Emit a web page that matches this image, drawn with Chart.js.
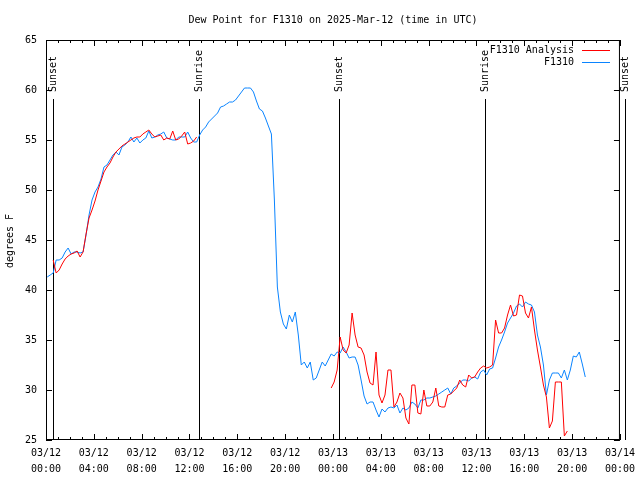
<!DOCTYPE html>
<html>
<head>
<meta charset="utf-8">
<script src="https://cdn.jsdelivr.net/npm/chart.js@4.4.1/dist/chart.umd.min.js"></script>
<style>
  html, body { margin: 0; padding: 0; background: #fff; }
  canvas { display: block; }
</style>
</head>
<body>
<canvas id="dewChart" width="640" height="480"></canvas>
<script>
// hours after 03/12 00:00 UTC, one sample every 15 minutes
const sampleStart = 0.1;
const sampleStep = 0.25;

const stationValues = [
    41.3, 41.5, 41.7, 43.0, 43.0, 43.2, 43.8, 44.2, 43.6, 43.8, 43.8, 43.7, 43.8, 45.5, 47.5, 49.0,
    49.8, 50.3, 51.1, 52.3, 52.5, 53.0, 53.5, 53.8, 53.5, 54.3, 54.5, 54.8, 55.3, 54.8, 55.2, 54.7,
    55.0, 55.2, 55.9, 55.2, 55.3, 55.5, 55.6, 55.8, 55.2, 55.1, 55.0, 55.0, 55.3, 55.3, 55.3, 55.8,
    55.2, 54.8, 54.8, 55.5, 56.0, 56.3, 56.8, 57.1, 57.4, 57.7, 58.3, 58.4, 58.6, 58.8, 58.8, 59.0,
    59.4, 59.8, 60.2, 60.2, 60.2, 59.8, 58.9, 58.1, 57.9, 57.2, 56.4, 55.6, 49.0, 40.3, 37.8, 36.6,
    36.1, 37.5, 36.8, 37.8, 35.5, 32.5, 32.8, 32.2, 32.8, 31.0, 31.2, 32.0, 32.8, 32.4, 33.0, 33.6,
    33.4, 33.8, 33.7, 34.3, 33.8, 33.2, 33.3, 33.3, 32.5, 31.0, 29.4, 28.6, 28.8, 28.8, 28.0, 27.3,
    28.1, 27.8, 28.2, 28.3, 28.2, 28.5, 27.7, 28.2, 28.0, 28.2, 28.8, 28.6, 28.2, 29.0, 29.0, 29.2,
    29.2, 29.3, 29.4, 29.6, 29.8, 30.0, 30.2, 29.6, 30.2, 30.4, 30.7, 31.0, 31.0, 30.9, 31.2, 31.3,
    31.1, 31.8, 32.0, 31.5, 32.1, 32.2, 33.2, 34.3, 35.0, 35.8, 36.7, 37.2, 37.7, 38.4, 38.6, 38.3,
    38.8, 38.6, 38.5, 37.8, 35.5, 34.3, 32.5, 29.5, 31.0, 31.7, 31.7, 31.7, 31.2, 32.0, 31.0, 32.0,
    33.4, 33.3, 33.8, 32.6, 31.3
];

const analysisValues = [
    null, null, 43.0, 41.7, 42.0, 42.6, 43.1, 43.4, 43.6, 43.7, 43.9, 43.3, 43.8, 45.6, 47.2, 48.0,
    48.9, 50.0, 50.9, 51.8, 52.3, 52.7, 53.3, 53.8, 54.1, 54.4, 54.6, 54.8, 55.0, 55.2, 55.3, 55.3,
    55.6, 55.8, 56.0, 55.6, 55.3, 55.4, 55.5, 55.0, 55.2, 55.1, 55.9, 55.0, 55.1, 55.4, 55.8, 54.6,
    54.7, 54.9, 55.3,
    null, null, null, null, null, null, null, null, null, null, null, null, null, null, null, null,
    null, null, null, null, null, null, null, null, null, null, null, null, null, null, null, null,
    null, null, null, null, null, null, null, null, null, null, null, null,
    30.2, 30.8, 32.0, 35.3, 34.0, 33.7, 34.5, 37.7, 35.5, 34.3, 34.2, 33.5, 31.8, 30.7, 30.5, 33.8,
    29.5, 28.7, 29.5, 32.0, 32.0, 28.3, 28.8, 29.7, 29.2, 27.2, 26.6, 30.5, 30.5, 27.7, 27.6, 30.0,
    28.4, 28.4, 28.8, 30.2, 28.4, 28.3, 28.3, 29.5, 29.6, 29.9, 30.2, 31.0, 30.5, 30.3, 31.5, 31.2,
    31.3, 31.8, 32.2, 32.4, 32.2, 32.3, 32.5, 37.0, 35.7, 35.7, 36.2, 37.5, 38.5, 37.4, 37.5, 39.5,
    39.4, 37.7, 37.2, 38.3, 36.0, 34.0, 32.3, 30.5, 29.3, 26.2, 26.9, 30.8, 30.8, 30.8, 25.4, 25.9
];

const xTickDays = ['03/12', '03/12', '03/12', '03/12', '03/12', '03/12', '03/13', '03/13', '03/13', '03/13', '03/13', '03/13', '03/14'];
const xTickTimes = ['00:00', '04:00', '08:00', '12:00', '16:00', '20:00', '00:00', '04:00', '08:00', '12:00', '16:00', '20:00', '00:00'];

const sunHours = [0.6, 12.78, 24.52, 36.73, 48.43];
const sunLabels = ['Sunset', 'Sunrise', 'Sunset', 'Sunrise', 'Sunset'];

const seriesNames = ['F1310 Analysis', 'F1310'];
const seriesColors = ['#ff0000', '#0a84ff'];

const monoFont = "'DejaVu Sans Mono', 'Liberation Mono', monospace";

const toPoints = (values) => values.map((v, i) => ({ x: sampleStart + i * sampleStep, y: v }));

const gnuplotFrame = {
    id: 'gnuplotFrame',
    beforeDatasetsDraw(chart) {
        const { ctx, chartArea, scales } = chart;
        ctx.save();
        ctx.strokeStyle = '#000';
        ctx.lineWidth = 1;
        ctx.fillStyle = '#000';
        ctx.font = '10px ' + monoFont;
        sunHours.forEach((h, i) => {
            const x = Math.round(scales.x.getPixelForValue(h)) + 0.5;
            ctx.beginPath();
            ctx.moveTo(x, 99);
            ctx.lineTo(x, chartArea.bottom);
            ctx.stroke();

            ctx.save();
            ctx.translate(x, 92);
            ctx.rotate(-Math.PI / 2);
            ctx.textAlign = 'left';
            ctx.textBaseline = 'middle';
            ctx.fillText(sunLabels[i], 0, 0);
            ctx.restore();
        });
        ctx.restore();
    },
    afterDraw(chart) {
        const { ctx, chartArea, scales } = chart;
        const { left, right, top, bottom } = chartArea;
        ctx.save();
        ctx.strokeStyle = '#000';
        ctx.lineWidth = 1;

        ctx.strokeRect(left + 0.5, top + 0.5, right - left - 1, bottom - top - 1);

        ctx.beginPath();
        for (let h = 0; h <= 48; h++) {
            const x = Math.round(scales.x.getPixelForValue(h)) + 0.5;
            const len = h % 4 === 0 ? 6 : 3;
            ctx.moveTo(x, bottom);
            ctx.lineTo(x, bottom - len);
            ctx.moveTo(x, top);
            ctx.lineTo(x, top + len);
        }
        for (let v = 25; v <= 65; v += 5) {
            const y = Math.round(scales.y.getPixelForValue(v)) + 0.5;
            ctx.moveTo(left, y);
            ctx.lineTo(left + 6, y);
            ctx.moveTo(right, y);
            ctx.lineTo(right - 6, y);
        }
        ctx.stroke();

        ctx.fillStyle = '#000';
        ctx.font = '10px ' + monoFont;
        ctx.textAlign = 'center';
        ctx.textBaseline = 'middle';
        ctx.fillText('Dew Point for F1310 on 2025-Mar-12 (time in UTC)', (left + right) / 2, 20);

        ctx.save();
        ctx.translate(10, 241);
        ctx.rotate(-Math.PI / 2);
        ctx.fillText('degrees F', 0, 0);
        ctx.restore();

        // legend, gnuplot style: text right-aligned, sample line after it
        ctx.textAlign = 'right';
        seriesNames.forEach((name, i) => {
            const y = 50 + i * 12;
            ctx.fillStyle = '#000';
            ctx.fillText(name, 574, y);
            ctx.strokeStyle = seriesColors[i];
            ctx.beginPath();
            ctx.moveTo(582, y + 0.5);
            ctx.lineTo(610, y + 0.5);
            ctx.stroke();
        });
        ctx.restore();
    },
};

Chart.defaults.font.family = monoFont;
Chart.defaults.font.size = 10;
Chart.defaults.color = '#000';

new Chart(document.getElementById('dewChart'), {
    type: 'line',
    data: {
        datasets: [
            {
                label: seriesNames[0],
                data: toPoints(analysisValues),
                borderColor: seriesColors[0],
                borderWidth: 1,
                pointRadius: 0,
                spanGaps: false,
                tension: 0,
            },
            {
                label: seriesNames[1],
                data: toPoints(stationValues),
                borderColor: seriesColors[1],
                borderWidth: 1,
                pointRadius: 0,
                tension: 0,
            },
        ],
    },
    options: {
        responsive: false,
        animation: false,
        layout: { padding: { left: 0, right: 18, top: 40, bottom: 0 } },
        plugins: {
            legend: { display: false },
            title: { display: false },
            tooltip: { enabled: false },
        },
        scales: {
            x: {
                type: 'linear',
                min: 0,
                max: 48,
                afterFit: (scale) => { scale.height = 40; },
                grid: { display: false, drawTicks: false },
                border: { display: false },
                ticks: {
                    stepSize: 1,
                    autoSkip: false,
                    maxRotation: 0,
                    minRotation: 0,
                    padding: 5,
                    font: { size: 10, lineHeight: 1.6 },
                    callback: (v) => v % 4 === 0 ? [xTickDays[v / 4], xTickTimes[v / 4]] : '',
                },
            },
            y: {
                min: 25,
                max: 65,
                afterFit: (scale) => { scale.width = 46; },
                grid: { display: false, drawTicks: false },
                border: { display: false },
                ticks: { stepSize: 5, padding: 9, font: { size: 10 } },
            },
        },
    },
    plugins: [gnuplotFrame],
});
</script>
</body>
</html>
